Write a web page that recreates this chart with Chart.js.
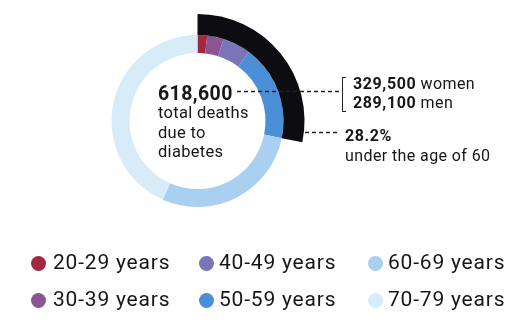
<!DOCTYPE html>
<html>
<head>
<meta charset="utf-8">
<script src="https://cdn.jsdelivr.net/npm/chart.js@4/dist/chart.umd.min.js"></script>
<style>
  html, body { margin: 0; padding: 0; background: #fff; }
  body { width: 521px; height: 330px; position: relative; overflow: hidden; font-family: Roboto, "Open Sans", sans-serif; color: #161616; }
  #wrap { position: absolute; left: 77px; top: 0; width: 241px; height: 242px; }
  .t { position: absolute; white-space: nowrap; line-height: 1; }
  .ctr { font-size: 16.5px; letter-spacing: 0.3px; }
  .big { font-size: 19.5px; font-weight: 700; letter-spacing: 0.4px; }
  .ann { font-size: 16px; letter-spacing: 0.4px; }
  .ann b { letter-spacing: 0.6px; }
  #bracket { position: absolute; left: 342px; top: 77px; width: 3px; height: 33px; border: 1.4px solid #222; border-right: none; }
  #legend { position: absolute; left: 0; top: 0; }
  .li { position: absolute; white-space: nowrap; font-size: 21px; letter-spacing: 0.8px; line-height: 1; }
  .dot { position: absolute; width: 15px; height: 15px; border-radius: 50%; }
  svg { position: absolute; left: 0; top: 0; }
</style>
</head>
<body>
<div id="wrap"><canvas id="c" width="241" height="242"></canvas></div>

<div class="t big" style="left:158px; top:83.6px;">618,600</div>
<div class="t ctr" style="left:158px; top:105px;">total deaths</div>
<div class="t ctr" style="left:158px; top:124.6px;">due to</div>
<div class="t ctr" style="left:158px; top:144px;">diabetes</div>

<div id="bracket"></div>
<div class="t ann" style="left:353px; top:75.5px;"><b>329,500</b> women</div>
<div class="t ann" style="left:353px; top:94.5px;"><b>289,100</b> men</div>
<div class="t ann" style="left:345px; top:127.5px;"><b>28.2%</b></div>
<div class="t ann" style="left:345px; top:147.5px;">under the age of 60</div>

<svg width="521" height="330">
  <line x1="237" y1="91.5" x2="340" y2="91.5" stroke="#222" stroke-width="1.3" stroke-dasharray="4 3"/>
  <line x1="305" y1="132.5" x2="340" y2="132.5" stroke="#222" stroke-width="1.3" stroke-dasharray="4 3"/>
</svg>

<div id="legend"></div>

<script>
// ---- data ----
const ageGroups = ['20-29 years', '30-39 years', '40-49 years', '50-59 years', '60-69 years', '70-79 years'];
const deathShares = [1.8, 3.1, 5.3, 18.0, 28.4, 43.4];           // % of 618,600 deaths
const underSixty = [28.2, 71.8];                                  // % under 60 / rest
const ageColors = ['#a3273e', '#8a5592', '#7b74b8', '#4a8fd8', '#a9cff1', '#d7ebf9'];

// ---- chart ----
new Chart(document.getElementById('c'), {
  type: 'doughnut',
  data: {
    labels: ageGroups,
    datasets: [
      {
        data: underSixty,
        backgroundColor: ['#0d0d11', 'rgba(0,0,0,0)'],
        borderWidth: 0,
        hoverOffset: 0,
        weight: 21
      },
      {
        data: deathShares,
        backgroundColor: ageColors,
        borderWidth: 0,
        hoverOffset: 0,
        weight: 18
      }
    ]
  },
  options: {
    responsive: false,
    animation: false,
    radius: 107,
    cutout: '63.55%',
    rotation: 0,
    layout: { padding: 0 },
    events: [],
    plugins: { legend: { display: false }, tooltip: { enabled: false } }
  }
});

// ---- legend (column-major, 3 columns x 2 rows) ----
const legendCols = [{ dot: 31, text: 53 }, { dot: 199, text: 219 }, { dot: 368, text: 388 }];
const legendRows = [263, 300];
const legend = document.getElementById('legend');
ageGroups.forEach((label, i) => {
  const col = legendCols[Math.floor(i / 2)];
  const cy = legendRows[i % 2];
  const d = document.createElement('div');
  d.className = 'dot';
  d.style.left = col.dot + 'px';
  d.style.top = (cy - 7.5) + 'px';
  d.style.background = ageColors[i];
  legend.appendChild(d);
  const t = document.createElement('div');
  t.className = 'li';
  t.style.left = col.text + 'px';
  t.style.top = (cy - 8.5 - 0.8415 * 21 + 15) + 'px';
  t.textContent = label;
  legend.appendChild(t);
});
</script>
</body>
</html>
